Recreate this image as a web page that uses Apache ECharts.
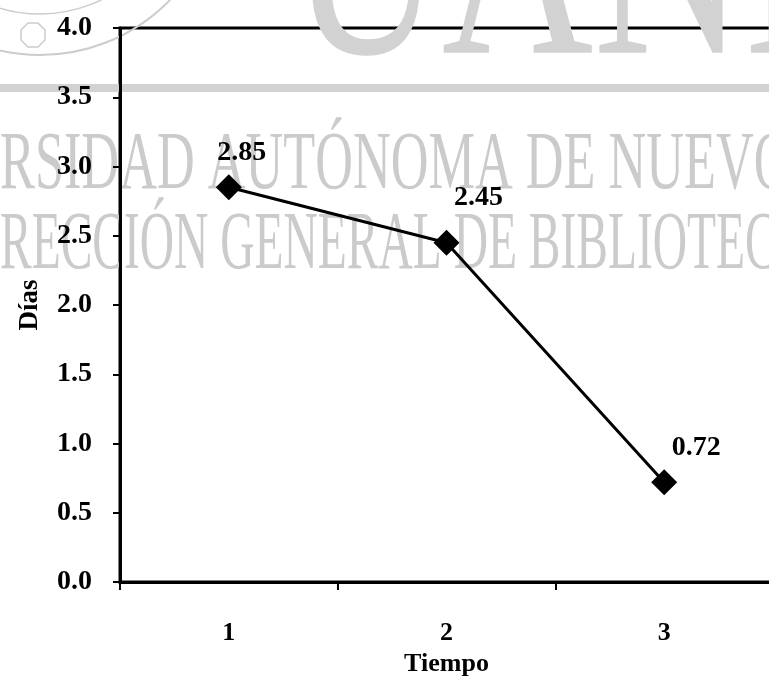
<!DOCTYPE html>
<html>
<head>
<meta charset="utf-8">
<script src="https://cdn.jsdelivr.net/npm/echarts@6/dist/echarts.min.js"></script>
<style>
html,body{margin:0;padding:0;background:#fff;}
#chart{width:769px;height:679px;}
</style>
</head>
<body>
<div id="chart"></div>
<script>
// ---- data ----
var categories = ['1', '2', '3'];
var dias = [2.85, 2.45, 0.72];
var yTicks = [0, 0.5, 1, 1.5, 2, 2.5, 3, 3.5, 4];
var xTitle = 'Tiempo';
var yTitle = 'Días';

// ---- style ----
var FONT = '"Liberation Serif", "Times New Roman", serif';
var labelOffsets = [[13, -35], [32, -45], [32, -35]];
var WM = '#cbcbcb';

var chart = echarts.init(document.getElementById('chart'), null, {renderer: 'canvas'});

var option = {
  backgroundColor: '#ffffff',
  animation: false,
  grid: {left: 120, right: -4, top: 28, bottom: 97, show: true, borderColor: '#000', borderWidth: 3,
         containLabel: false, outerBoundsMode: 'none'},
  graphic: [
    {type: 'rect', z: 0, shape: {x: 0, y: 84, width: 769, height: 8}, style: {fill: '#d2d2d2'}},
    {type: 'text', z: 0, x: 0, y: 208, scaleX: 0.63, style: {text: 'RSIDAD AUTÓNOMA DE NUEVO LEÓN', font: '83px ' + FONT, fill: WM, textVerticalAlign: 'bottom'}},
    {type: 'text', z: 0, x: 0, y: 288, scaleX: 0.572, style: {text: 'RECCIÓN GENERAL DE BIBLIOTECAS', font: '83px ' + FONT, fill: WM, textVerticalAlign: 'bottom'}},
    {type: 'text', z: 0, x: 290, y: -176, scaleX: 0.7, style: {text: 'UANL', font: '300px ' + FONT, fill: '#d2d2d2'}},
    {type: 'circle', z: 0, shape: {cx: 40, cy: -126, r: 181}, style: {fill: 'none', stroke: '#cccccc', lineWidth: 2}},
    {type: 'circle', z: 0, shape: {cx: 40, cy: -126, r: 140}, style: {fill: 'none', stroke: '#cccccc', lineWidth: 1.5}},
    {type: 'polygon', z: 0, shape: {points: [[28,23],[38,23],[45,30],[45,40],[38,47],[28,47],[21,40],[21,30]]}, style: {fill: 'none', stroke: '#cccccc', lineWidth: 1.5}}
  ],
  xAxis: {
    type: 'category',
    data: categories,
    boundaryGap: true,
    name: xTitle,
    nameLocation: 'middle',
    nameGap: 68,
    nameTextStyle: {fontFamily: FONT, fontWeight: 'bold', fontSize: 26, color: '#000'},
    axisLine: {lineStyle: {color: '#000', width: 3}},
    axisTick: {show: true, alignWithLabel: false, length: 8, inside: false, lineStyle: {color: '#000', width: 2}},
    axisLabel: {fontFamily: FONT, fontWeight: 'bold', fontSize: 26, color: '#000', margin: 38},
    splitLine: {show: false}
  },
  yAxis: {
    type: 'value',
    min: 0,
    max: 4,
    interval: 0.5,
    name: yTitle,
    nameLocation: 'middle',
    nameGap: 76,
    nameRotate: 90,
    nameTextStyle: {fontFamily: FONT, fontWeight: 'bold', fontSize: 27, color: '#000'},
    axisLine: {show: true, lineStyle: {color: '#000', width: 3}},
    axisTick: {show: true, length: 7, lineStyle: {color: '#000', width: 2}},
    axisLabel: {fontFamily: FONT, fontWeight: 'bold', fontSize: 28, color: '#000', margin: 28,
      formatter: function (v) { return v.toFixed(1); }},
    splitLine: {show: false}
  },
  series: [{
    type: 'line',
    data: dias.map(function (v, i) {
      return {value: v, label: {offset: labelOffsets[i]}};
    }),
    symbol: 'diamond',
    symbolSize: 26,
    lineStyle: {color: '#000', width: 3},
    itemStyle: {color: '#000'},
    label: {show: true, position: 'inside', fontFamily: FONT, fontWeight: 'bold', fontSize: 28, color: '#000',
      formatter: function (p) { return p.value.toFixed(2); }},
    z: 5
  }]
};
chart.setOption(option);
</script>
</body>
</html>
